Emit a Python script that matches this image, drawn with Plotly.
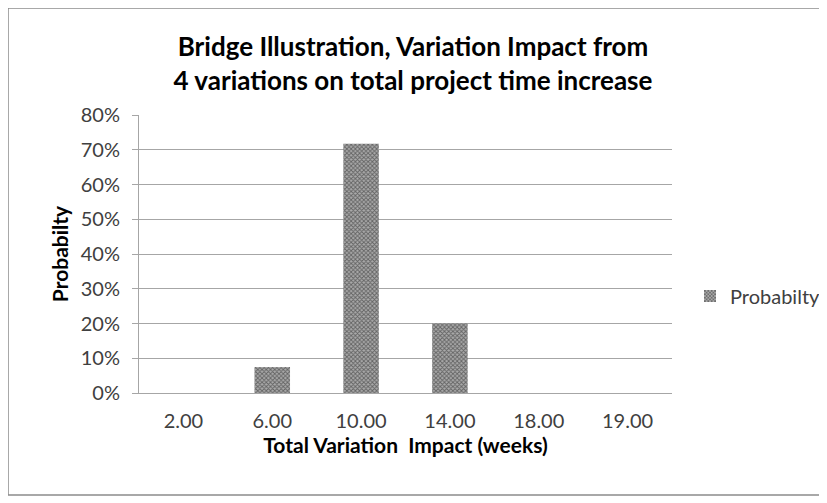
import plotly.graph_objects as go

categories = ["2.00", "6.00", "10.00", "14.00", "18.00", "19.00"]
probability = [0.0, 0.075, 0.717, 0.20, 0.0, 0.0]
y_ticks = [0, 0.1, 0.2, 0.3, 0.4, 0.5, 0.6, 0.7, 0.8]
y_labels = ["0%", "10%", "20%", "30%", "40%", "50%", "60%", "70%", "80%"]

FONT = "Lato, Open Sans, sans-serif"

# page body has an 8px margin, so figure coords = screen coords - 8
OFF = 8
W, H = 827 - OFF, 503 - OFF
L, R, T, B = 139 - OFF, 672 - OFF, 115 - OFF, 393 - OFF
pw, ph = R - L, B - T

fig = go.Figure()
fig.add_trace(go.Bar(
    x=categories, y=probability, name="Probabilty", width=0.4,
    marker=dict(color="#a6a6a6", line=dict(width=0),
                pattern=dict(shape="x", size=3, solidity=0.5,
                             fgcolor="#1a1a1a", bgcolor="#aaaaaa")),
))

# outer chart border
fig.add_shape(type="rect", xref="paper", yref="paper",
              x0=(8 - OFF - L) / pw, x1=(820 - OFF - L) / pw,
              y0=(B - (495 - OFF)) / ph, y1=(B - (8 - OFF)) / ph,
              line=dict(color="#8c8c8c", width=1.5), layer="below")

fig.update_layout(
    width=W, height=H,
    margin=dict(l=L, r=W - R, t=T, b=H - B, autoexpand=False),
    paper_bgcolor="white", plot_bgcolor="white",
    font=dict(family=FONT, size=20, color="#404040"),
    title=dict(text="<b>Bridge Illustration, Variation Impact from<br>4 variations on total project time increase</b>",
               x=(413 - OFF) / W, xanchor="center", y=1 - 48 / H, yanchor="top",
               font=dict(family=FONT, size=26, color="#000000")),
    showlegend=True,
    legend=dict(x=(690 - OFF - L) / pw, y=(B - (296 - OFF)) / ph, xanchor="left", yanchor="middle",
                font=dict(family=FONT, size=20, color="#404040"),
                bgcolor="rgba(0,0,0,0)", itemwidth=30),
    bargap=0.6,
)
fig.update_yaxes(range=[0, 0.8], tickvals=y_ticks, ticktext=y_labels,
                 showgrid=True, gridcolor="#a6a6a6", gridwidth=1,
                 showline=True, linecolor="#a6a6a6", linewidth=1,
                 ticks="outside", ticklen=6, tickcolor="#a6a6a6",
                 ticklabelstandoff=8,
                 zeroline=False,
                 title=dict(text="<b>Probabilty</b>", standoff=6,
                            font=dict(family=FONT, size=21, color="#000000")))
fig.update_xaxes(showline=True, linecolor="#a6a6a6", linewidth=1,
                 ticks="", showgrid=False, ticklabelstandoff=10,
                 title=dict(text="<b>Total Variation  Impact (weeks)</b>", standoff=0,
                            font=dict(family=FONT, size=21, color="#000000")))

fig.write_html("out.html")
